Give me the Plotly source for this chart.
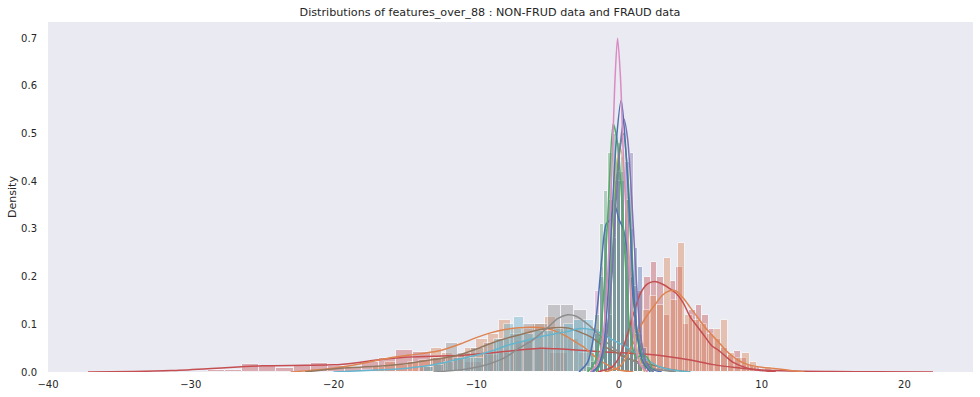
import plotly.graph_objects as go

# ---------------- colours (seaborn "deep") ----------------
BLUE = "#4C72B0"; ORANGE = "#DD8452"; GREEN = "#55A868"; RED = "#C44E52"
PURPLE = "#8172B3"; BROWN = "#937860"; PINK = "#DA8BC3"; GREY = "#8C8C8C"
OLIVE = "#CCB974"; CYAN = "#64B5CD"

# ---------------- histogram data (bin centres, densities) ----------------
red_left_x = [-28.2, -27, -25.8, -24.6, -23.4, -22.2, -21, -19.8, -18.6, -17.4, -16.2, -15, -13.8, -12.6, -11.4, -10.2, -9, -7.8, -6.6, -5.4, -4.2]
red_left_y = [0.004, 0.005, 0.017, 0.013, 0.008, 0.012, 0.019, 0.012, 0.008, 0.02, 0.03, 0.046, 0.042, 0.03, 0.035, 0.02, 0.035, 0.04, 0.065, 0.05, 0.04]

orange_left_x = [-17.6, -16.8, -16, -15.2, -14.4, -13.6, -12.8, -12, -11.2, -10.4, -9.6, -8.8, -8, -7.2, -6.4, -5.6, -4.8, -4.0, -3.2, -2.4, -1.6]
orange_left_y = [0.005, 0.01, 0.02, 0.015, 0.02, 0.025, 0.05, 0.04, 0.035, 0.05, 0.07, 0.08, 0.11, 0.09, 0.09, 0.1, 0.115, 0.09, 0.07, 0.04, 0.02]

grey_x = [-13.5, -12.6, -11.7, -10.8, -9.9, -9.0, -8.1, -7.2, -6.3, -5.4, -4.5, -3.6, -2.7, -1.8, -0.9]
grey_y = [0.01, 0.03, 0.06, 0.04, 0.05, 0.06, 0.07, 0.08, 0.1, 0.1, 0.14, 0.14, 0.13, 0.09, 0.04]

cyan_x = [-13.3, -12.6, -11.9, -11.2, -10.5, -9.8, -9.1, -8.4, -7.7, -7.0, -6.3, -5.6, -4.9, -4.2, -3.5, -2.8, -2.1, -1.4, -0.7]
cyan_y = [0.01, 0.015, 0.02, 0.03, 0.03, 0.03, 0.04, 0.07, 0.1, 0.115, 0.08, 0.085, 0.085, 0.09, 0.1, 0.11, 0.11, 0.07, 0.04]

green_x = [-2.1, -1.8, -1.5, -1.2, -0.9, -0.6, -0.3, 0, 0.3, 0.6, 0.9, 1.2, 1.5, 1.8]
green_y = [0.01, 0.04, 0.12, 0.31, 0.38, 0.46, 0.5, 0.48, 0.45, 0.36, 0.2, 0.08, 0.03, 0.01]

blue_x = [-1.8, -1.5, -1.2, -0.9, -0.6, -0.3, 0, 0.3, 0.6, 0.9, 1.2, 1.5, 1.8]
blue_y = [0.02, 0.08, 0.2, 0.3, 0.36, 0.4, 0.42, 0.4, 0.36, 0.3, 0.26, 0.22, 0.05]

purple_x = [-0.9, -0.6, -0.3, 0, 0.3, 0.6, 0.9, 1.2]
purple_y = [0.05, 0.12, 0.28, 0.4, 0.42, 0.44, 0.46, 0.18]

pink_x = [-1.5, -1.2, -0.9, -0.6, -0.3, 0, 0.3, 0.6, 0.9, 1.2]
pink_y = [0.17, 0.22, 0.28, 0.36, 0.4, 0.42, 0.36, 0.32, 0.2, 0.05]

brown_x = [0.15, 0.45, 0.75, 1.05, 1.35, 1.65, 1.95]
brown_y = [0.03, 0.08, 0.11, 0.11, 0.1, 0.06, 0.03]

red_right_x = [0.2, 0.65, 1.1, 1.55, 2.0, 2.45, 2.9, 3.35, 3.8, 4.25, 4.7, 5.15, 5.6, 6.05, 6.5, 6.95, 7.4, 7.85, 8.3, 8.75, 9.2, 9.65]
red_right_y = [0.03, 0.07, 0.12, 0.17, 0.2, 0.23, 0.2, 0.12, 0.19, 0.22, 0.1, 0.13, 0.14, 0.12, 0.09, 0.07, 0.05, 0.035, 0.045, 0.03, 0.015, 0.01]

orange_right_x = [0.9, 1.4, 1.9, 2.4, 2.9, 3.4, 3.9, 4.4, 4.9, 5.4, 5.9, 6.4, 6.9, 7.4, 7.9, 8.4, 8.9, 9.4, 10.5, 11.5]
orange_right_y = [0.04, 0.08, 0.13, 0.16, 0.14, 0.24, 0.15, 0.27, 0.12, 0.11, 0.1, 0.08, 0.09, 0.11, 0.04, 0.03, 0.04, 0.02, 0.01, 0.005]

# ---------------- KDE curves ----------------
kde_red_long_x = [-37.2, -34, -31.4, -28.2, -25, -22, -20, -18.5, -17, -15, -13, -11, -9, -7, -5.5, -4, -2.5, -1, 0.5, 2, 3.5, 5, 6.5, 8, 9.5, 12, 15, 18, 22]
kde_red_long_y = [0, 0.001, 0.003, 0.008, 0.013, 0.014, 0.015, 0.019, 0.025, 0.031, 0.033, 0.035, 0.04, 0.046, 0.05, 0.048, 0.045, 0.042, 0.04, 0.037, 0.032, 0.025, 0.016, 0.01, 0.005, 0.002, 0.001, 0.0005, 0]

kde_orange_left_x = [-23, -20, -18, -16, -14, -12.5, -11, -10, -9, -8, -7, -6, -5, -4, -3, -2.5, -2, -1.5, -1, -0.5, 0, 1]
kde_orange_left_y = [0, 0.008, 0.018, 0.03, 0.038, 0.045, 0.06, 0.072, 0.082, 0.089, 0.093, 0.094, 0.091, 0.08, 0.062, 0.053, 0.04, 0.028, 0.018, 0.01, 0.004, 0]

kde_brown_x = [-22, -19.5, -17, -14.8, -13, -11.3, -10, -8.8, -7.5, -6.5, -5.5, -4.5, -3.5, -2.7, -2, -1.1, 0, 0.5, 1.5, 2.4, 3.5, 5]
kde_brown_y = [0, 0.008, 0.012, 0.018, 0.026, 0.035, 0.048, 0.062, 0.074, 0.082, 0.089, 0.093, 0.092, 0.083, 0.074, 0.055, 0.038, 0.03, 0.02, 0.014, 0.006, 0]

kde_grey_x = [-13, -11, -10, -9, -8, -7, -6, -5, -4.3, -3.6, -3, -2.4, -1.8, -1.2, -0.6, 0, 0.6, 1.2, 2, 3, 4]
kde_grey_y = [0, 0.005, 0.01, 0.018, 0.03, 0.05, 0.068, 0.093, 0.112, 0.12, 0.117, 0.105, 0.09, 0.072, 0.055, 0.042, 0.03, 0.02, 0.01, 0.004, 0]

kde_cyan_x = [-20, -17, -14.8, -13, -11.5, -10, -8.8, -7.8, -6.5, -5.5, -4.5, -3.6, -2.7, -1.8, -1, -0.4, 0.5, 1.2, 2.0, 2.9, 4, 5]
kde_cyan_y = [0, 0.004, 0.008, 0.015, 0.025, 0.035, 0.045, 0.056, 0.066, 0.074, 0.08, 0.085, 0.091, 0.088, 0.077, 0.067, 0.053, 0.04, 0.025, 0.01, 0.003, 0]

kde_blue_broad_x = [-2.8, -2.2, -1.8, -1.5, -1.2, -0.9, -0.6, -0.3, 0, 0.3, 0.6, 0.9, 1.2, 1.5, 1.9, 2.4, 3.0]
kde_blue_broad_y = [0, 0.02, 0.07, 0.14, 0.24, 0.31, 0.32, 0.35, 0.32, 0.3, 0.25, 0.18, 0.1, 0.05, 0.02, 0.005, 0]

kde_green1_x = [-2.2, -1.7, -1.3, -1.0, -0.7, -0.4, -0.1, 0.2, 0.5, 0.8, 1.2, 1.6, 2.0, 2.4]
kde_green1_y = [0, 0.02, 0.08, 0.2, 0.38, 0.52, 0.48, 0.36, 0.2, 0.08, 0.03, 0.035, 0.01, 0]

kde_green2_x = [-1.6, -1.1, -0.7, -0.4, -0.1, 0.3, 0.6, 0.9, 1.2, 1.6, 2.0, 2.4]
kde_green2_y = [0, 0.03, 0.12, 0.28, 0.43, 0.5, 0.42, 0.26, 0.1, 0.04, 0.03, 0]

kde_olive_x = [-1.8, -1.3, -0.9, -0.5, -0.2, 0.1, 0.4, 0.7, 1.0, 1.4, 1.8]
kde_olive_y = [0, 0.03, 0.12, 0.3, 0.43, 0.47, 0.4, 0.25, 0.1, 0.03, 0]

kde_purple_x = [-1.8, -1.3, -0.9, -0.5, -0.2, 0.1, 0.35, 0.6, 0.9, 1.2, 1.5, 1.9, 2.4]
kde_purple_y = [0, 0.02, 0.07, 0.2, 0.36, 0.48, 0.53, 0.49, 0.36, 0.2, 0.08, 0.02, 0]

kde_blue_x = [-2, -1.5, -1.1, -0.8, -0.5, -0.2, 0.15, 0.4, 0.7, 1.0, 1.3, 1.7, 2.2]
kde_blue_y = [0, 0.01, 0.05, 0.15, 0.32, 0.48, 0.57, 0.5, 0.35, 0.18, 0.07, 0.02, 0]

kde_pink_x = [-2.0, -1.5, -1.1, -0.8, -0.5, -0.3, -0.1, 0.1, 0.3, 0.5, 0.8, 1.1, 1.5, 2.0]
kde_pink_y = [0, 0.02, 0.08, 0.2, 0.42, 0.6, 0.7, 0.62, 0.46, 0.33, 0.17, 0.06, 0.015, 0]

kde_red_right_x = [-1.5, -0.5, 0, 0.5, 1.0, 1.5, 2.0, 2.5, 3.0, 3.5, 4.0, 4.5, 5.0, 5.5, 6.0, 6.5, 7.0, 7.5, 8.0, 9.0, 10.0, 11.0]
kde_red_right_y = [0, 0.01, 0.03, 0.07, 0.12, 0.165, 0.185, 0.19, 0.185, 0.176, 0.165, 0.145, 0.115, 0.095, 0.075, 0.055, 0.045, 0.032, 0.02, 0.008, 0.003, 0]

kde_orange_right_x = [-1, 0, 0.5, 1.0, 1.5, 2.0, 2.5, 3.0, 3.5, 4.0, 4.5, 5.0, 5.5, 6.0, 6.5, 7.0, 7.5, 8.0, 8.5, 9.0, 10, 11, 12, 13]
kde_orange_right_y = [0, 0.01, 0.03, 0.06, 0.095, 0.12, 0.14, 0.16, 0.17, 0.17, 0.155, 0.135, 0.115, 0.095, 0.078, 0.062, 0.045, 0.032, 0.022, 0.016, 0.01, 0.007, 0.003, 0]

hists = [
    (red_left_x, red_left_y, 1.2, RED),
    (orange_left_x, orange_left_y, 0.8, ORANGE),
    (grey_x, grey_y, 0.9, GREY),
    (cyan_x, cyan_y, 0.7, CYAN),
    (brown_x, brown_y, 0.3, BROWN),
    (red_right_x, red_right_y, 0.45, RED),
    (orange_right_x, orange_right_y, 0.5, ORANGE),
    (pink_x, pink_y, 0.3, PINK),
    (blue_x, blue_y, 0.3, BLUE),
    (purple_x, purple_y, 0.3, PURPLE),
    (green_x, green_y, 0.3, GREEN),
]

kdes = [
    (kde_red_long_x, kde_red_long_y, RED),
    (kde_orange_left_x, kde_orange_left_y, ORANGE),
    (kde_brown_x, kde_brown_y, BROWN),
    (kde_cyan_x, kde_cyan_y, CYAN),
    (kde_grey_x, kde_grey_y, GREY),
    (kde_red_right_x, kde_red_right_y, RED),
    (kde_orange_right_x, kde_orange_right_y, ORANGE),
    (kde_blue_broad_x, kde_blue_broad_y, BLUE),
    (kde_olive_x, kde_olive_y, OLIVE),
    (kde_green1_x, kde_green1_y, GREEN),
    (kde_green2_x, kde_green2_y, GREEN),
    (kde_purple_x, kde_purple_y, PURPLE),
    (kde_blue_x, kde_blue_y, BLUE),
    (kde_pink_x, kde_pink_y, PINK),
]

fig = go.Figure()
for xs, ys, w, c in hists:
    fig.add_trace(go.Bar(x=xs, y=ys, width=w, marker=dict(color=c, line=dict(color="white", width=1)),
                         opacity=0.4, showlegend=False, hoverinfo="skip"))
for xs, ys, c in kdes:
    fig.add_trace(go.Scatter(x=xs, y=ys, mode="lines", line=dict(color=c, width=1.5, shape="spline", smoothing=0.8),
                             showlegend=False, hoverinfo="skip"))

fig.update_layout(
    width=980, height=397,
    margin=dict(l=48, r=7, t=22, b=25),
    barmode="overlay", bargap=0,
    paper_bgcolor="white", plot_bgcolor="#EAEAF2",
    font=dict(family="DejaVu Sans", size=10, color="#262626"),
    title=dict(text="Distributions of features_over_88 : NON-FRUD data and FRAUD data",
               x=0.5, xanchor="center", y=0.97, yanchor="middle", font=dict(size=11.2, color="#262626")),
    xaxis=dict(range=[-40, 24.8], tickvals=[-40, -30, -20, -10, 0, 10, 20], showgrid=False,
               zeroline=False, ticks="", showline=False, automargin=False, ticklabelstandoff=5),
    yaxis=dict(range=[0, 0.734], tickvals=[0, 0.1, 0.2, 0.3, 0.4, 0.5, 0.6, 0.7], tickformat=".1f",
               showgrid=False, zeroline=False, ticks="", automargin=False, ticklabelstandoff=10,
               title=dict(text="Density", font=dict(size=11), standoff=2)),
)
fig.write_html("out.html", post_script="document.body.style.margin='0';",
               config={"displayModeBar": False})
